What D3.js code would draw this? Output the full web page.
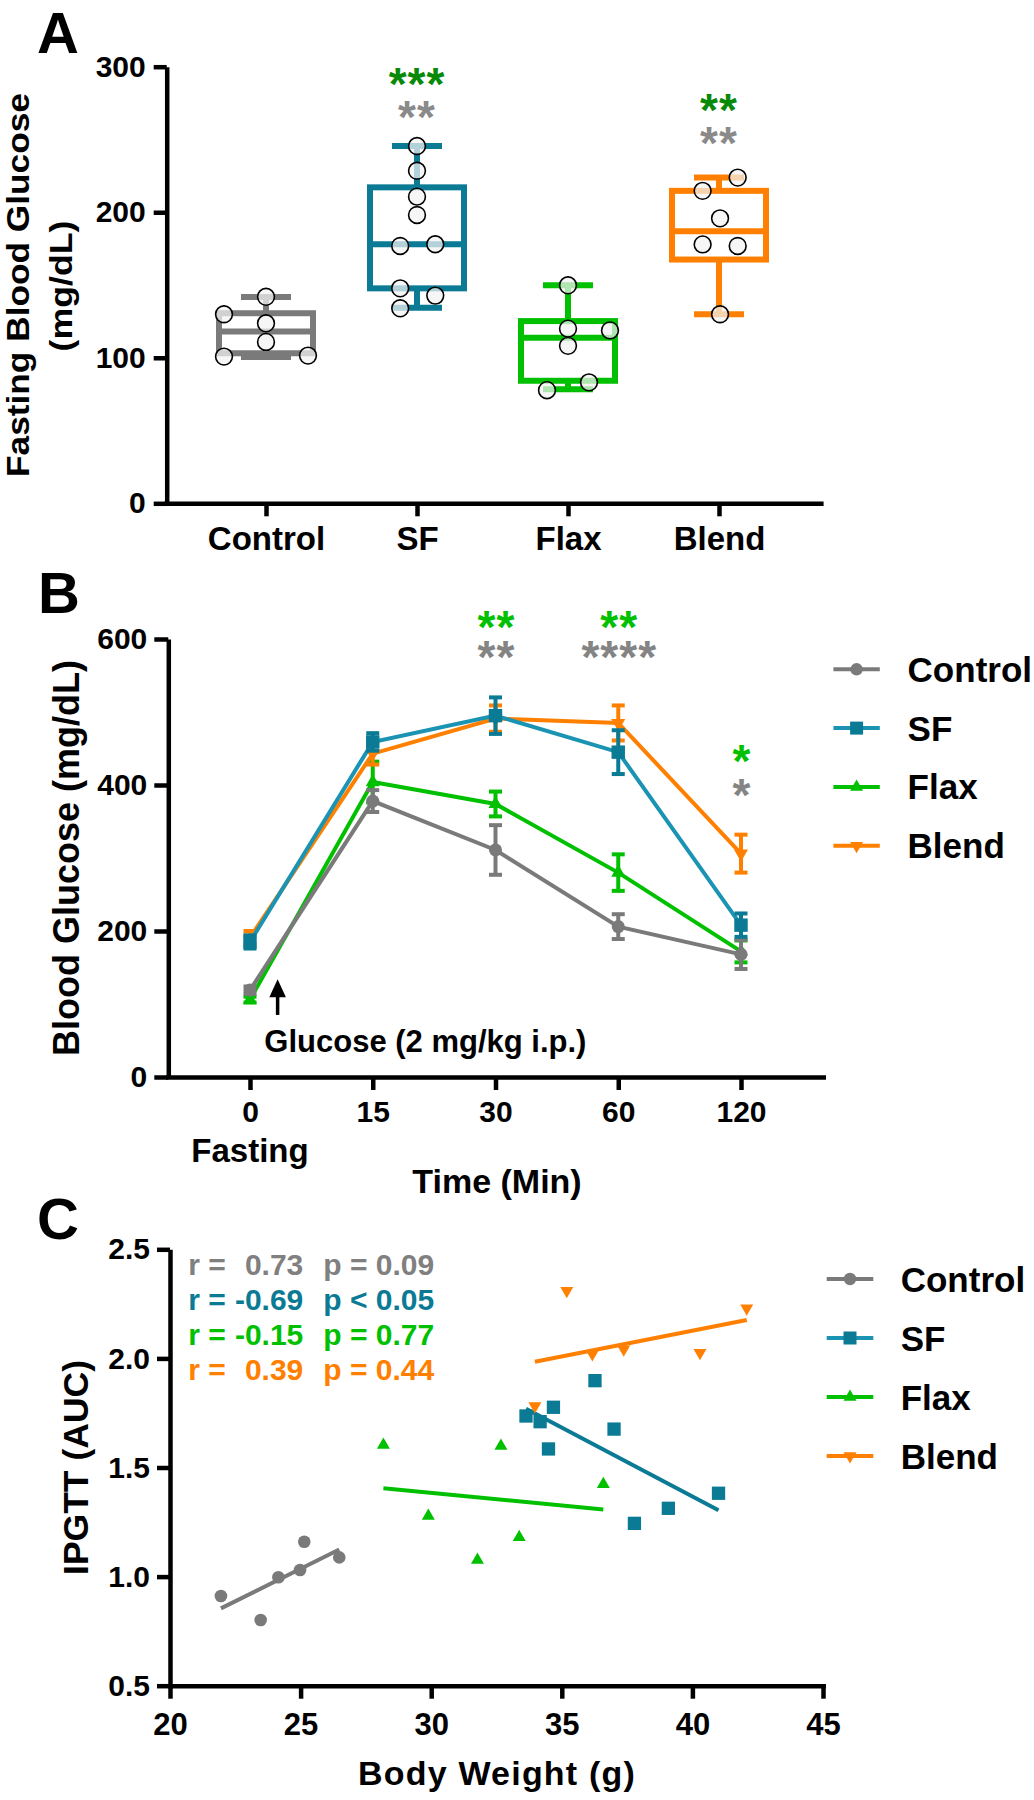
<!DOCTYPE html>
<html><head><meta charset="utf-8">
<script src="https://cdn.jsdelivr.net/npm/d3@7"></script>
<style>
body{margin:0;background:#fff;}
svg{display:block;font-family:"Liberation Sans",Arial,Helvetica,sans-serif;font-weight:bold;}
.axis path,.axis line{stroke:#000;stroke-width:4.5;}
</style></head><body>
<svg id="chart" width="1034" height="1800"></svg>
<script>
// ---------------- DATA ----------------
const groups = ["Control", "SF", "Flax", "Blend"];

// Panel A: fasting blood glucose (box & whiskers, min..max)
const fastingTicks = [0, 100, 200, 300];
const boxMin    = [100.6, 134.4, 78.3, 129.9];
const boxQ1     = [103.1, 147.7, 84.2, 167.5];
const boxMedian = [118.0, 178.0, 113.7, 186.9];
const boxQ3     = [130.6, 217.1, 125.2, 214.7];
const boxMax    = [141.8, 245.5, 149.8, 223.8];
const ctrlDots  = [129.9, 141.9, 123.7, 110.9, 100.8, 101.5];
const ctrlLanes = [-2, 0, 0, 0, -2, 2];
const sfDots    = [245.5, 228.5, 210.7, 198.1, 176.8, 178.0, 147.7, 142.7, 134.0];
const sfLanes   = [0, 0, 0, 0, -0.8, 0.87, -0.8, 0.87, -0.8];
const flaxDots  = [149.8, 120.0, 118.8, 108.2, 83.1, 77.7];
const flaxLanes = [0, 0, 2, 0, 1, -1];
const blendDots = [223.8, 214.7, 195.8, 177.9, 176.8, 129.9];
const blendLanes= [0.89, -0.78, 0.05, -0.78, 0.89, 0.05];
const starsA = [
  {group: "SF",    rows: [{level: 294.8, text: "***", tone: "green"}, {level: 272.5, text: "**", tone: "gray"}]},
  {group: "Blend", rows: [{level: 277.6, text: "**",  tone: "green"}, {level: 254.5, text: "**", tone: "gray"}]}
];

// Panel B: IPGTT time course (mean ± SEM)
const times = ["0", "15", "30", "60", "120"];
const glucoseTicks = [0, 200, 400, 600];
const ctrlMean  = [119, 378, 311, 206, 168];
const ctrlSem   = [5, 15, 34, 17, 20];
const sfMean    = [185, 459, 495, 445, 208];
const sfSem     = [9, 12, 25, 30, 16];
const flaxMean  = [106, 404, 374, 280, 172];
const flaxSem   = [4, 28, 17, 25, 15];
const blendMean = [191, 443, 491, 485, 306];
const blendSem  = [9, 15, 18, 24, 26];
const starsB = [
  {time: "30",  rows: [{level: 630, text: "**", tone: "green"}, {level: 589, text: "**",   tone: "gray"}]},
  {time: "60",  rows: [{level: 630, text: "**", tone: "green"}, {level: 589, text: "****", tone: "gray"}]},
  {time: "120", rows: [{level: 447, text: "*",  tone: "green"}, {level: 400, text: "*",    tone: "gray"}]}
];

// Panel C: IPGTT AUC vs body weight
const weightTicks = [20, 25, 30, 35, 40, 45];
const aucTicks = [0.5, 1.0, 1.5, 2.0, 2.5];
const ctrlWeight  = [21.95, 23.47, 24.15, 24.98, 25.14, 26.48];
const ctrlAuc     = [0.911, 0.801, 0.997, 1.030, 1.160, 1.088];
const sfWeight    = [33.63, 34.17, 34.68, 34.49, 36.27, 37.00, 37.78, 39.08, 41.00];
const sfAuc       = [1.736, 1.710, 1.776, 1.585, 1.898, 1.676, 1.244, 1.313, 1.382];
const flaxWeight  = [28.17, 29.89, 31.77, 32.67, 33.37, 36.59];
const flaxAuc     = [1.603, 1.278, 1.076, 1.599, 1.180, 1.423];
const blendWeight = [35.19, 42.08, 36.17, 37.37, 40.29, 33.97];
const blendAuc    = [2.310, 2.230, 2.020, 2.042, 2.026, 1.782];
const statR = [" 0.73", "-0.69", "-0.15", " 0.39"];
const statP = ["p = 0.09", "p < 0.05", "p = 0.77", "p = 0.44"];

// ---------------- STYLE ----------------
const col  = {Control: "#7a7a7a", SF: "#0b7a94", Flax: "#00c000", Blend: "#ff8000"};
const lineCol = {Control: "#7a7a7a", SF: "#1a94b2", Flax: "#00c000", Blend: "#ff8000"};
const toneA = {green: "#088a08", gray: "#8a8a8a"};
const toneB = {green: "#00c000", gray: "#848484"};
const FONT = '"Liberation Sans", Arial, Helvetica, sans-serif';

const svg = d3.select("#chart");

function panelLetter(t, x, y, size) {
  svg.append("text").attr("x", x).attr("y", y).attr("font-size", size).text(t);
}
function yTitle(t, x, y, size, len) {
  const el = svg.append("text").attr("transform", `translate(${x},${y}) rotate(-90)`)
    .attr("text-anchor", "middle").attr("font-size", size).text(t);
  if (len) el.attr("textLength", len).attr("lengthAdjust", "spacingAndGlyphs");
}
function styleAxis(g, size) {
  g.attr("class", "axis").attr("font-family", FONT).attr("font-weight", "bold").attr("font-size", size);
  g.selectAll("text").attr("fill", "#000");
}
// one text element per significance annotation, one tspan per row
function stars(x, rows, yScale, tones) {
  const fs = 46;
  const t = svg.append("text").attr("text-anchor", "middle").attr("font-size", fs).attr("letter-spacing", 1);
  rows.forEach(r => {
    t.append("tspan").attr("x", x).attr("y", yScale(r.level) + 0.57 * fs)
      .attr("fill", tones[r.tone]).text(r.text);
  });
}

// ================= PANEL A =================
panelLetter("A", 37, 53, 58);
const xA = d3.scalePoint().domain(groups).range([266, 719]);
const yA = d3.scaleLinear().domain([0, 300]).range([503.3, 66.7]);

const gAy = svg.append("g").attr("transform", "translate(166.7,0)")
  .call(d3.axisLeft(yA).tickValues(fastingTicks).tickSize(13).tickSizeOuter(0).tickPadding(8));
styleAxis(gAy, 30);
const gAx = svg.append("g").attr("transform", "translate(0,503.3)")
  .call(d3.axisBottom(xA).tickSize(13).tickSizeOuter(0).tickPadding(10.5));
styleAxis(gAx, 33);
gAx.select(".domain").attr("d", "M164.5,0.5H823.6");

yTitle("Fasting Blood Glucose", 29, 285, 31, 384);
yTitle("(mg/dL)", 72, 286, 31, 131);

const boxW = 94, capW = 50;
groups.forEach((g, i) => {
  const cx = xA(g), c = col[g];
  const gb = svg.append("g").attr("stroke", c).attr("stroke-width", 6).attr("fill", "none");
  gb.append("line").attr("x1", cx).attr("x2", cx).attr("y1", yA(boxQ3[i])).attr("y2", yA(boxMax[i]));
  gb.append("line").attr("x1", cx).attr("x2", cx).attr("y1", yA(boxQ1[i])).attr("y2", yA(boxMin[i]));
  gb.append("line").attr("x1", cx - capW / 2).attr("x2", cx + capW / 2).attr("y1", yA(boxMax[i])).attr("y2", yA(boxMax[i]));
  gb.append("line").attr("x1", cx - capW / 2).attr("x2", cx + capW / 2).attr("y1", yA(boxMin[i])).attr("y2", yA(boxMin[i]));
  gb.append("rect").attr("x", cx - boxW / 2).attr("width", boxW)
    .attr("y", yA(boxQ3[i])).attr("height", yA(boxQ1[i]) - yA(boxQ3[i])).attr("fill", "#fff");
  gb.append("line").attr("x1", cx - boxW / 2).attr("x2", cx + boxW / 2)
    .attr("y1", yA(boxMedian[i])).attr("y2", yA(boxMedian[i]));
});
const laneW = 21;
[[ "Control", ctrlDots, ctrlLanes], ["SF", sfDots, sfLanes], ["Flax", flaxDots, flaxLanes], ["Blend", blendDots, blendLanes]]
.forEach(([g, vals, lanes]) => {
  svg.append("g").selectAll("circle").data(vals).join("circle")
    .attr("cx", (d, j) => xA(g) + lanes[j] * laneW)
    .attr("cy", d => yA(d)).attr("r", 8.4)
    .attr("fill", "#f3f3f3").attr("fill-opacity", 0.72)
    .attr("stroke", "#000").attr("stroke-width", 1.6);
});
starsA.forEach(s => stars(xA(s.group), s.rows, yA, toneA));

// ================= PANEL B =================
panelLetter("B", 38, 613, 58);
const xB = d3.scalePoint().domain(times).range([250, 741]);
const yB = d3.scaleLinear().domain([0, 600]).range([1077, 639]);

const gBy = svg.append("g").attr("transform", "translate(168.3,0)")
  .call(d3.axisLeft(yB).tickValues(glucoseTicks).tickSize(14).tickSizeOuter(0).tickPadding(7));
styleAxis(gBy, 30);
const gBx = svg.append("g").attr("transform", "translate(0,1077)")
  .call(d3.axisBottom(xB).tickSize(13).tickSizeOuter(0).tickPadding(10.5));
styleAxis(gBx, 30);
gBx.select(".domain").attr("d", "M166,0.5H826");

svg.append("text").attr("x", xB("0")).attr("y", 1162).attr("text-anchor", "middle")
  .attr("font-size", 33).text("Fasting");
svg.append("text").attr("x", 497).attr("y", 1193).attr("text-anchor", "middle")
  .attr("font-size", 34).text("Time (Min)");
yTitle("Blood Glucose (mg/dL)", 79, 858, 36);

// arrow & glucose annotation
const step = xB.step();
const ax = xB("0") + 0.225 * step;
svg.append("line").attr("x1", ax).attr("x2", ax).attr("y1", yB(85)).attr("y2", yB(122))
  .attr("stroke", "#000").attr("stroke-width", 3.5);
svg.append("path").attr("fill", "#000")
  .attr("d", `M${ax},${yB(134)}L${ax - 8.3},${yB(134) + 18}L${ax + 8.3},${yB(134) + 18}Z`);
svg.append("text").attr("x", xB("0") + 14.3).attr("y", yB(34)).attr("font-size", 31)
  .text("Glucose (2 mg/kg i.p.)");

const symB = {
  Control: d3.symbol(d3.symbolCircle, 133)(),
  SF: d3.symbol(d3.symbolSquare, 180)(),
  Flax: d3.symbol(d3.symbolTriangle, 85)(),
  Blend: d3.symbol(d3.symbolTriangle, 85)()
};
const seriesB = {Control: [ctrlMean, ctrlSem], SF: [sfMean, sfSem], Flax: [flaxMean, flaxSem], Blend: [blendMean, blendSem]};
["Flax", "Control", "Blend", "SF"].forEach(g => {
  const [m, s] = seriesB[g];
  const pts = times.map((t, i) => ({t, m: m[i], s: s[i]}));
  const gs = svg.append("g");
  gs.append("path").datum(pts).attr("fill", "none").attr("stroke", lineCol[g]).attr("stroke-width", 4)
    .attr("d", d3.line().x(d => xB(d.t)).y(d => yB(d.m)));
  const eb = gs.append("g").attr("stroke", col[g]).attr("stroke-width", 4);
  pts.forEach(d => {
    const x = xB(d.t);
    eb.append("line").attr("x1", x).attr("x2", x).attr("y1", yB(d.m - d.s)).attr("y2", yB(d.m + d.s));
    eb.append("line").attr("x1", x - 6.5).attr("x2", x + 6.5).attr("y1", yB(d.m - d.s)).attr("y2", yB(d.m - d.s));
    eb.append("line").attr("x1", x - 6.5).attr("x2", x + 6.5).attr("y1", yB(d.m + d.s)).attr("y2", yB(d.m + d.s));
  });
  gs.selectAll(".mk").data(pts).join("path").attr("fill", col[g]).attr("d", symB[g])
    .attr("transform", d => `translate(${xB(d.t)},${yB(d.m)})${g === "Blend" ? " rotate(180)" : ""}`);
});
starsB.forEach(s => stars(xB(s.time) + 1, s.rows, yB, toneB));

// legend
const symLeg = {
  Control: d3.symbol(d3.symbolCircle, 121)(),
  SF: d3.symbol(d3.symbolSquare, 169)(),
  Flax: d3.symbol(d3.symbolTriangle, 73)(),
  Blend: d3.symbol(d3.symbolTriangle, 73)()
};
function legend(x0, x1, tx, y0, dy) {
  groups.forEach((g, i) => {
    const y = y0 + i * dy, xm = (x0 + x1) / 2;
    svg.append("line").attr("x1", x0).attr("x2", x1).attr("y1", y).attr("y2", y)
      .attr("stroke", lineCol[g]).attr("stroke-width", 4);
    svg.append("path").attr("d", symLeg[g]).attr("fill", col[g])
      .attr("transform", `translate(${xm},${y})${g === "Blend" ? " rotate(180)" : ""}`);
    svg.append("text").attr("x", tx).attr("y", y + 12.5).attr("font-size", 35).text(g);
  });
}
legend(833.4, 879.8, 907.6, 669.3, 58.8);

// ================= PANEL C =================
panelLetter("C", 37, 1239, 58);
const xC = d3.scaleLinear().domain([20, 45]).range([170, 823]);
const yC = d3.scaleLinear().domain([0.5, 2.5]).range([1685.7, 1249.3]);

const gCy = svg.append("g").attr("transform", "translate(170,0)")
  .call(d3.axisLeft(yC).tickValues(aucTicks).tickFormat(d3.format(".1f")).tickSize(13).tickSizeOuter(0).tickPadding(7));
styleAxis(gCy, 30);
const gCx = svg.append("g").attr("transform", "translate(0,1685.7)")
  .call(d3.axisBottom(xC).tickValues(weightTicks).tickSize(13).tickSizeOuter(0).tickPadding(14));
styleAxis(gCx, 31);
gCx.select(".domain").attr("d", "M168,0.5H826");

svg.append("text").attr("x", 497).attr("y", 1785).attr("text-anchor", "middle")
  .attr("font-size", 34).attr("letter-spacing", 1.2).text("Body Weight (g)");
yTitle("IPGTT (AUC)", 88.3, 1467.5, 35.5);

const symC = {
  Control: d3.symbol(d3.symbolCircle, 125)(),
  SF: d3.symbol(d3.symbolSquare, 177)(),
  Flax: d3.symbol(d3.symbolTriangle, 73)(),
  Blend: d3.symbol(d3.symbolTriangle, 73)()
};
const seriesC = {Control: [ctrlWeight, ctrlAuc], SF: [sfWeight, sfAuc], Flax: [flaxWeight, flaxAuc], Blend: [blendWeight, blendAuc]};
function fit(xs, ys) {
  const mx = d3.mean(xs), my = d3.mean(ys);
  let sxy = 0, sxx = 0;
  xs.forEach((x, i) => { sxy += (x - mx) * (ys[i] - my); sxx += (x - mx) * (x - mx); });
  const b = sxy / sxx;
  return x => my + b * (x - mx);
}
["Flax", "Control", "SF", "Blend"].forEach(g => {
  const [ws, vs] = seriesC[g];
  const f = fit(ws, vs);
  const lo = d3.min(ws), hi = d3.max(ws);
  svg.append("line").attr("x1", xC(lo)).attr("x2", xC(hi)).attr("y1", yC(f(lo))).attr("y2", yC(f(hi)))
    .attr("stroke", g === "SF" ? col[g] : lineCol[g]).attr("stroke-width", 4);
  svg.append("g").selectAll("path").data(ws).join("path").attr("fill", col[g]).attr("d", symC[g])
    .attr("transform", (d, i) => `translate(${xC(d)},${yC(vs[i])})${g === "Blend" ? " rotate(180)" : ""}`);
});

// stats
groups.forEach((g, i) => {
  const y = 1275 + i * 35;
  const c = g === "Control" ? "#808080" : col[g];
  svg.append("text").attr("x", 188.3).attr("y", y).attr("font-size", 30).attr("fill", c).text("r =");
  svg.append("text").attr("x", 303.3).attr("y", y).attr("text-anchor", "end").attr("font-size", 30).attr("fill", c).text(statR[i].trim());
  svg.append("text").attr("x", 323.3).attr("y", y).attr("font-size", 30).attr("fill", c).text(statP[i]);
});

legend(826.7, 873.3, 900.7, 1279, 59);
</script>
</body></html>
